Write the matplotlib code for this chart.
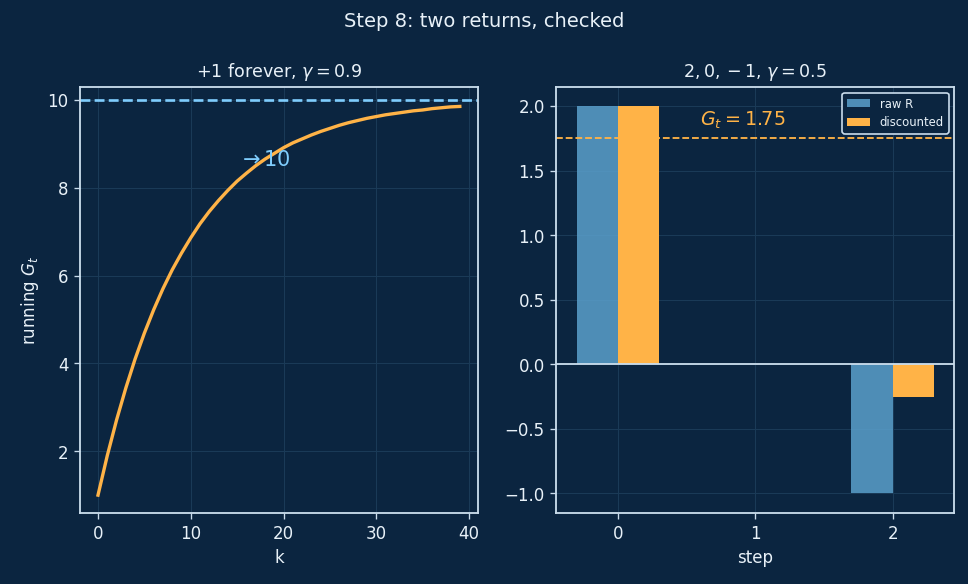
#!/usr/bin/env python3
import matplotlib
matplotlib.use("Agg")
import matplotlib.pyplot as plt
import numpy as np

# running return for +1 forever, gamma = 0.9
k_steps = list(range(40))
running_g = [1.00, 1.90, 2.71, 3.44, 4.10, 4.69, 5.22, 5.70, 6.13, 6.51,
             6.86, 7.18, 7.46, 7.71, 7.94, 8.15, 8.33, 8.50, 8.65, 8.78,
             8.91, 9.02, 9.11, 9.20, 9.28, 9.35, 9.42, 9.48, 9.53, 9.58,
             9.62, 9.66, 9.69, 9.72, 9.75, 9.77, 9.80, 9.82, 9.84, 9.85]
limit_g = 10

# 2, 0, -1 with gamma = 0.5
steps = [0, 1, 2]
raw_r = [2, 0, -1]
discounted = [2, 0, -0.25]
g_total = 1.75

BG = "#0b2540"
FG = "#e8f1f8"
SPINE = "#c9dcec"
GRID = "#1a3a57"
ORANGE = "#ffb347"
LBLUE = "#7fcdfd"
RAWC = "#5aa0cc"

plt.rcParams.update({
    "figure.facecolor": BG,
    "axes.facecolor": BG,
    "axes.edgecolor": SPINE,
    "axes.labelcolor": FG,
    "xtick.color": SPINE,
    "ytick.color": SPINE,
    "xtick.labelcolor": FG,
    "ytick.labelcolor": FG,
    "text.color": FG,
    "font.size": 10,
    "axes.grid": True,
    "axes.axisbelow": True,
    "grid.color": GRID,
    "grid.linewidth": 0.6,
    "axes.linewidth": 1.1,
})

fig, (ax1, ax2) = plt.subplots(1, 2, figsize=(8.07, 4.87), dpi=120)
fig.subplots_adjust(left=0.083, right=0.9855, top=0.851, bottom=0.122, wspace=0.196)
fig.suptitle("Step 8: two returns, checked", fontsize=11.7, color=FG, y=0.98)

ax1.plot(k_steps, running_g, color=ORANGE, lw=2)
ax1.axhline(limit_g, color=LBLUE, ls="--", lw=1.6)
ax1.text(15.1, 8.5, r"$\rightarrow$10", color=LBLUE, fontsize=12.5)
ax1.set_title(r"+1 forever, $\gamma=0.9$", fontsize=10.5, color=FG)
ax1.set_xlabel("k")
ax1.set_ylabel(r"running $G_t$")
ax1.set_xlim(-1.9, 41)
ax1.set_ylim(0.6, 10.3)
ax1.set_xticks([0, 10, 20, 30, 40])
ax1.set_yticks([2, 4, 6, 8, 10])

w = 0.3
x = np.array(steps)
ax2.bar(x - w / 2, raw_r, w, color=RAWC, alpha=0.85, label="raw R")
ax2.bar(x + w / 2, discounted, w, color=ORANGE, label="discounted")
ax2.axhline(0, color=SPINE, lw=1.1)
ax2.axhline(g_total, color=ORANGE, ls="--", lw=1.1)
ax2.text(0.6, 1.85, r"$G_t = %.2f$" % g_total, color=ORANGE, fontsize=11.5)
ax2.set_title(r"$2, 0, -1$, $\gamma=0.5$", fontsize=10.5, color=FG)
ax2.set_xlabel("step")
ax2.set_xticks(steps)
ax2.set_xlim(-0.45, 2.45)
ax2.set_ylim(-1.15, 2.15)
ax2.legend(loc="upper right", fontsize=7, facecolor=BG, edgecolor=SPINE,
           labelcolor=FG, framealpha=1)

fig.savefig("out.png", dpi=120, facecolor=BG)
